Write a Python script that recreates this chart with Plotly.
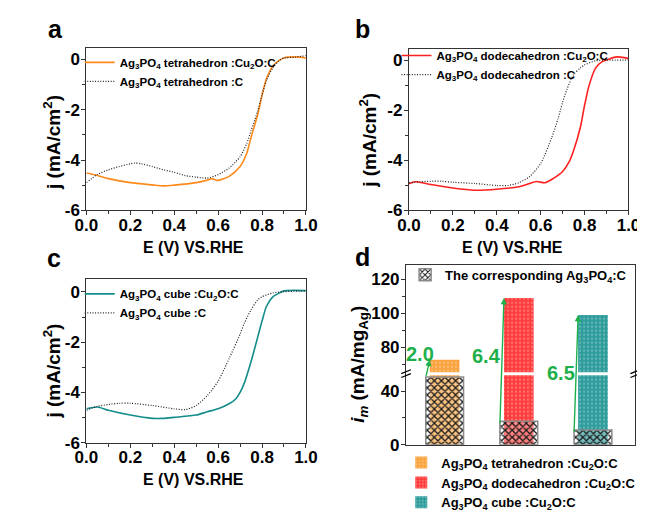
import plotly.graph_objects as go

W, H = 645, 510
FONT = "Liberation Sans, Arial, sans-serif"

# ---------------- data ----------------
# panel a
Ea_cu = [0, 0.05, 0.1, 0.2, 0.3, 0.35, 0.4, 0.5, 0.55, 0.57, 0.6, 0.65, 0.7, 0.73, 0.75, 0.78, 0.8, 0.82, 0.85, 0.88, 0.9, 0.95, 1.0]
Ja_cu = [-4.52, -4.62, -4.74, -4.90, -4.99, -5.03, -5.0, -4.9, -4.8, -4.74, -4.81, -4.65, -4.26, -3.74, -3.1, -2.2, -1.42, -0.77, -0.26, -0.03, 0.06, 0.1, 0.06]
Ea_c = [0, 0.05, 0.1, 0.15, 0.2, 0.22, 0.25, 0.3, 0.35, 0.4, 0.45, 0.5, 0.55, 0.6, 0.65, 0.7, 0.73, 0.75, 0.78, 0.8, 0.82, 0.85, 0.88, 0.9, 0.95, 1.0]
Ja_c = [-4.9, -4.58, -4.39, -4.26, -4.15, -4.12, -4.15, -4.26, -4.39, -4.49, -4.62, -4.68, -4.72, -4.58, -4.32, -3.87, -3.35, -2.84, -2.06, -1.42, -0.84, -0.32, -0.03, 0.06, 0.09, 0.15]
# panel b
Eb_cu = [0, 0.03, 0.1, 0.2, 0.3, 0.4, 0.5, 0.55, 0.58, 0.62, 0.65, 0.7, 0.73, 0.75, 0.78, 0.8, 0.82, 0.85, 0.88, 0.9, 0.93, 0.95, 0.98, 1.0]
Jb_cu = [-4.94, -4.86, -4.97, -5.11, -5.2, -5.16, -5.06, -4.93, -4.85, -4.9, -4.77, -4.45, -4.06, -3.61, -2.71, -1.81, -1.03, -0.32, -0.06, 0.0, 0.1, 0.13, 0.1, 0.06]
Eb_c = [0, 0.05, 0.1, 0.15, 0.2, 0.3, 0.4, 0.45, 0.5, 0.55, 0.6, 0.65, 0.68, 0.7, 0.72, 0.75, 0.78, 0.8, 0.85, 0.9, 1.0]
Jb_c = [-4.9, -4.86, -4.84, -4.84, -4.88, -4.93, -5.01, -5.01, -4.9, -4.65, -4.13, -3.1, -2.32, -1.68, -1.16, -0.58, -0.32, -0.19, -0.03, 0.0, 0.0]
# panel c
Ec_cu = [0, 0.05, 0.1, 0.2, 0.3, 0.35, 0.4, 0.5, 0.55, 0.6, 0.65, 0.68, 0.7, 0.72, 0.75, 0.78, 0.8, 0.82, 0.85, 0.88, 0.9, 0.95, 1.0]
Jc_cu = [-4.65, -4.58, -4.71, -4.90, -5.03, -5.03, -4.99, -4.9, -4.77, -4.65, -4.45, -4.26, -4.0, -3.61, -2.77, -1.81, -1.16, -0.58, -0.19, -0.04, 0.04, 0.06, 0.05]
Ec_c = [0, 0.05, 0.1, 0.15, 0.2, 0.3, 0.4, 0.45, 0.5, 0.55, 0.6, 0.65, 0.7, 0.72, 0.75, 0.78, 0.8, 0.85, 0.9, 1.0]
Jc_c = [-4.71, -4.55, -4.48, -4.43, -4.43, -4.52, -4.65, -4.68, -4.52, -4.13, -3.55, -2.65, -1.68, -1.23, -0.71, -0.32, -0.19, -0.04, 0.01, 0.04]
# panel d
d_categories = [0, 1, 2]
d_cu2o = [72.7, 109, 99]          # Ag3PO4 :Cu2O:C
d_plain = [50.7, 17.5, 11]         # corresponding Ag3PO4:C
d_ratio_labels = ["2.0", "6.4", "6.5"]

x_ticks = [0, 0.2, 0.4, 0.6, 0.8, 1.0]
x_ticklabels = ["0.0", "0.2", "0.4", "0.6", "0.8", "1.0"]
y_ticks = [-6, -4, -2, 0]
y_ticklabels = ["-6", "-4", "-2", "0"]
d_low_ticks = [0, 40]
d_low_ticklabels = ["0", "40"]
d_up_ticks = [80, 100, 120]
d_up_ticklabels = ["80", "100", "120"]

names_a = ["Ag<sub>3</sub>PO<sub>4</sub> tetrahedron :Cu<sub>2</sub>O:C", "Ag<sub>3</sub>PO<sub>4</sub> tetrahedron :C"]
names_b = ["Ag<sub>3</sub>PO<sub>4</sub> dodecahedron :Cu<sub>2</sub>O:C", "Ag<sub>3</sub>PO<sub>4</sub> dodecahedron :C"]
names_c = ["Ag<sub>3</sub>PO<sub>4</sub> cube :Cu<sub>2</sub>O:C", "Ag<sub>3</sub>PO<sub>4</sub> cube :C"]
names_d = ["Ag<sub>3</sub>PO<sub>4</sub> tetrahedron :Cu<sub>2</sub>O:C",
           "Ag<sub>3</sub>PO<sub>4</sub> dodecahedron :Cu<sub>2</sub>O:C",
           "Ag<sub>3</sub>PO<sub>4</sub> cube :Cu<sub>2</sub>O:C"]
name_d_plain = "The corresponding Ag<sub>3</sub>PO<sub>4</sub>:C"

ORANGE = "#FF8A1C"
RED = "#FF1F1F"
TEAL = "#138C8C"
BAR_COLORS = ["#F9A33E", "#FF3D3D", "#2E9C9C"]
GREEN = "#1DB04A"
DOT = "1px,1.6px"

# ---------------- geometry helpers ----------------
def fx(p):
    return p / W

def fy(p):
    return 1 - p / H

dom = {
    "a": ([fx(69), fx(297)], [fy(208), fy(41)]),
    "b": ([fx(404), fx(632)], [fy(208), fy(42)]),
    "c": ([fx(69), fx(297)], [fy(447), fy(279)]),
}
d_xdom = [fx(401), fx(639)]
d_low_dom = [fy(449), fy(376)]
d_up_dom = [fy(376), fy(264)]
d_low_range = [0, 53.1]
d_up_range = [64.57, 128.57]
d_xrange = [-0.52, 2.57]

fig = go.Figure()

def curve(x, y, color, dash, width, name, xa, ya, legend):
    fig.add_trace(go.Scatter(x=x, y=y, mode="lines", name=name,
                             line=dict(color=color, dash=dash, width=width, shape="spline", smoothing=0.7),
                             xaxis=xa, yaxis=ya, legend=legend))

curve(Ea_cu, Ja_cu, ORANGE, "solid", 1.6, names_a[0], "x", "y", "legend")
curve(Ea_c, Ja_c, "#222222", DOT, 1.2, names_a[1], "x", "y", "legend")
curve(Eb_cu, Jb_cu, RED, "solid", 1.6, names_b[0], "x2", "y2", "legend2")
curve(Eb_c, Jb_c, "#222222", DOT, 1.2, names_b[1], "x2", "y2", "legend2")
curve(Ec_cu, Jc_cu, TEAL, "solid", 1.6, names_c[0], "x3", "y3", "legend3")
curve(Ec_c, Jc_c, "#222222", DOT, 1.2, names_c[1], "x3", "y3", "legend3")

# panel d bars: colored on both segments, hatched on lower
for i in range(3):
    for xa, ya, show in (("x4", "y4", True), ("x5", "y5", False)):
        fig.add_trace(go.Bar(x=[d_categories[i]], y=[d_cu2o[i]], width=0.40, name=names_d[i],
                             xaxis=xa, yaxis=ya, showlegend=show, legend="legend5",
                             marker=dict(color=BAR_COLORS[i], line=dict(width=0),
                                         pattern=dict(shape=".", size=4, solidity=0.25,
                                                      fgcolor="rgba(255,255,255,0.55)", fillmode="overlay"))))
fig.add_trace(go.Bar(x=d_categories, y=d_plain, width=0.51, name=name_d_plain,
                     xaxis="x4", yaxis="y4", legend="legend4",
                     marker=dict(color="#1a1a1a", line=dict(color="#8a8a8a", width=1.5),
                                 pattern=dict(shape="x", size=5, solidity=0.45,
                                              bgcolor="rgba(255,255,255,0.30)", fillmode="replace"))))

# ---------------- axes ----------------
def tickfont():
    return dict(family=FONT, size=17, color="black", weight="bold")

def base_axis(**kw):
    d = dict(showline=True, linecolor="#333333", linewidth=1.2, mirror=True,
             ticks="outside", ticklen=4, tickwidth=1.2, tickcolor="#333333",
             tickfont=tickfont(), showgrid=False, zeroline=False)
    d.update(kw)
    return d

layout_axes = {}
for key, xa, ya, yr in (("a", "xaxis", "yaxis", [-6, 0.46]),
                        ("b", "xaxis2", "yaxis2", [-6, 0.45]),
                        ("c", "xaxis3", "yaxis3", [-6, 0.5])):
    xd, yd = dom[key]
    yname = ya.replace("axis", "")
    xname = xa.replace("axis", "")
    layout_axes[xa] = base_axis(domain=xd, range=[0, 1], anchor=yname, tickmode="array",
                                tickvals=x_ticks, ticktext=x_ticklabels, ticklabelstandoff=-5,
                                minor=dict(ticks="outside", ticklen=3, tickcolor="#333333", dtick=0.1, tick0=0))
    layout_axes[ya] = base_axis(domain=yd, range=yr, anchor=xname, tickmode="array",
                                tickvals=y_ticks, ticktext=y_ticklabels, ticklabelstandoff=-2,
                                minor=dict(ticks="outside", ticklen=3, tickcolor="#333333", dtick=1, tick0=0))

layout_axes["xaxis4"] = dict(domain=d_xdom, range=d_xrange, anchor="y4", showline=True, linecolor="#333333",
                             linewidth=1.2, mirror=False, ticks="", showticklabels=False, showgrid=False, zeroline=False)
layout_axes["xaxis5"] = dict(domain=d_xdom, range=d_xrange, anchor="y5", side="top", showline=True,
                             linecolor="#333333", linewidth=1.2, mirror=False, ticks="", showticklabels=False,
                             showgrid=False, zeroline=False, matches="x4")
layout_axes["yaxis4"] = base_axis(domain=d_low_dom, range=d_low_range, anchor="x4", tickmode="array",
                                  tickvals=d_low_ticks, ticktext=d_low_ticklabels, ticklabelstandoff=-2,
                                  minor=dict(ticks="outside", ticklen=3, tickcolor="#333333", dtick=20, tick0=0))
layout_axes["yaxis5"] = base_axis(domain=d_up_dom, range=d_up_range, anchor="x5", tickmode="array",
                                  tickvals=d_up_ticks, ticktext=d_up_ticklabels, ticklabelstandoff=-2,
                                  minor=dict(ticks="outside", ticklen=3, tickcolor="#333333", dtick=10, tick0=0))

def ax_to_px(v, domain, rng):
    frac = domain[0] + (v - rng[0]) / (rng[1] - rng[0]) * (domain[1] - domain[0])
    return H * (1 - frac)

# ---------------- annotations ----------------
ann = []
def text(x, y, s, size, xref="paper", yref="paper", color="black", angle=0, xanchor="center", yanchor="middle"):
    ann.append(dict(x=x, y=y, xref=xref, yref=yref, text=s, showarrow=False, textangle=angle,
                    xanchor=xanchor, yanchor=yanchor,
                    font=dict(family=FONT, size=size, color=color, weight="bold")))

# panel letters
text(fx(27), fy(38), "a", 25, xanchor="left", yanchor="bottom")
text(fx(346), fy(38), "b", 25, xanchor="left", yanchor="bottom")
text(fx(26), fy(273), "c", 25, xanchor="left", yanchor="bottom")
text(fx(346), fy(272), "d", 25, xanchor="left", yanchor="bottom")

# axis titles
YT = "j (mA/cm<sup>2</sup>)"
text(fx(33), fy(138), YT, 19, angle=-90)
text(fx(362), fy(136), YT, 19, angle=-90)
text(fx(33), fy(373), YT, 19, angle=-90)
text(fx(352), fy(366), "<i>i</i><sub><i>m</i></sub> (mA/mg<sub>Ag</sub>)", 19, angle=-90)
XT = "E (V) VS.RHE"
text(fx(180), fy(246), XT, 16)
text(fx(512), fy(246), XT, 16)
text(fx(180), fy(485), XT, 16)

# arrows and ratio labels in panel d
label_pos = [(-0.33, 356), (0.56, 358), (1.57, 375)]
for i in range(3):
    head_px = ax_to_px(d_cu2o[i], d_up_dom, d_up_range)
    tail_px = ax_to_px(d_plain[i], d_low_dom, d_low_range)
    ann.append(dict(x=d_categories[i] - 0.20, y=d_cu2o[i], xref="x5", yref="y5",
                    axref="x5", ax=d_categories[i] - 0.255, ayref="pixel", ay=tail_px - head_px,
                    showarrow=True, arrowhead=2, arrowsize=0.9, arrowwidth=1.4, arrowcolor=GREEN,
                    standoff=0, startstandoff=0, text=""))
    lx, ly = label_pos[i]
    text(lx, fy(ly), d_ratio_labels[i], 20, xref="x5", color=GREEN)

# ---------------- shapes (axis break) ----------------
shapes = [dict(type="line", xref="paper", yref="paper", x0=fx(402), x1=fx(638), y0=fy(376), y1=fy(376),
               line=dict(color="white", width=3), layer="above")]
for bx in (401, 639):
    for off in (-2, 2):
        shapes.append(dict(type="line", xref="paper", yref="paper",
                           x0=fx(bx - 5), x1=fx(bx + 5), y0=fy(376 + off + 2), y1=fy(376 + off - 2),
                           line=dict(color="black", width=1.2)))

legend_font = dict(family=FONT, size=11.5, color="black", weight="bold")
fig.update_layout(
    width=W, height=H, margin=dict(l=0, r=0, t=0, b=0),
    paper_bgcolor="white", plot_bgcolor="white",
    barmode="overlay",
    annotations=ann, shapes=shapes,
    legend=dict(x=fx(62), y=fy(41), xanchor="left", yanchor="top", bgcolor="rgba(0,0,0,0)",
                font=legend_font, tracegroupgap=0),
    legend2=dict(x=fx(391), y=fy(34), xanchor="left", yanchor="top", bgcolor="rgba(0,0,0,0)",
                 font=legend_font, tracegroupgap=0),
    legend3=dict(x=fx(62), y=fy(279), xanchor="left", yanchor="top", bgcolor="rgba(0,0,0,0)",
                 font=legend_font, tracegroupgap=0),
    legend4=dict(x=fx(400), y=fy(259), xanchor="left", yanchor="top", bgcolor="rgba(0,0,0,0)",
                 font=dict(family=FONT, size=13, color="black", weight="bold")),
    legend5=dict(x=fx(396), y=fy(452), xanchor="left", yanchor="top", bgcolor="rgba(0,0,0,0)",
                 font=dict(family=FONT, size=13, color="black", weight="bold"), tracegroupgap=0),
    **layout_axes,
)

fig.write_html("out.html")
